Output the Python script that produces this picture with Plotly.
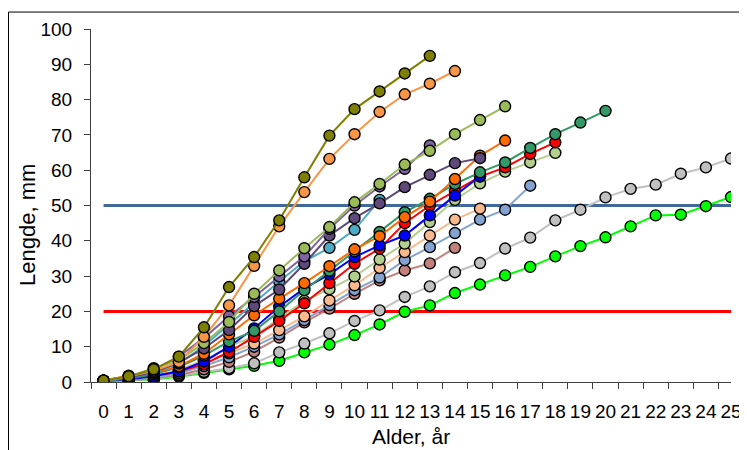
import plotly.graph_objects as go

ages = list(range(26))
age_labels = [str(a) for a in ages]
y_ticks = [0, 10, 20, 30, 40, 50, 60, 70, 80, 90, 100]

olive = [0.4, 1.6, 3.6, 7.2, 15.5, 26.9, 35.4, 45.8, 58.0, 69.8, 77.3, 82.3, 87.4, 92.4]
orange_b = [0.4, 1.6, 3.2, 5.7, 12.8, 21.7, 32.9, 44.1, 53.8, 63.2, 70.2, 76.5, 81.5, 84.5, 88.1]
green_c = [0.4, 1.5, 3.9, 6.2, 11.0, 17.0, 25.0, 31.6, 37.9, 43.9, 50.9, 56.1, 61.6, 65.5, 70.2, 74.2, 78.1]
purple_d = [0.4, 1.4, 3.5, 7.2, 12.5, 18.6, 24.1, 29.9, 35.6, 43.4, 50.0, 55.4, 60.4, 67.0]
purple_e = [0.4, 1.2, 2.8, 5.5, 9.5, 14.7, 21.5, 26.2, 33.5, 41.5, 46.4, 50.6, 55.2, 58.7, 62.0, 63.4]
teal = [0.4, 1.2, 2.8, 5.2, 10.2, 16.3, 22.4, 28.5, 34.2, 38.0, 43.1, 51.6]
orange_f = [0.4, 1.8, 2.6, 4.5, 8.0, 13.5, 18.9, 23.6, 28.0, 32.8, 37.6, 41.3, 46.7, 51.1, 57.5, 64.1, 68.4]
seagreen = [0.3, 1.0, 2.2, 4.2, 7.5, 11.5, 14.5, 20.0, 26.0, 31.5, 37.0, 42.5, 48.1, 51.9, 56.1, 59.4, 62.2, 66.3, 70.2, 73.5, 76.8]
red = [0.3, 0.9, 1.8, 3.0, 5.0, 8.5, 12.8, 17.3, 22.3, 28.0, 33.5, 37.8, 45.0, 50.0, 54.2, 58.2, 60.8, 64.6, 67.9]
blue = [0.3, 0.8, 1.6, 3.0, 5.8, 10.0, 15.2, 21.3, 26.5, 30.5, 35.4, 38.7, 41.5, 47.2, 52.8, 58.3]
lightgreen = [0.3, 0.8, 1.6, 3.2, 6.0, 10.0, 13.0, 18.0, 23.0, 26.3, 29.9, 34.7, 39.2, 45.3, 51.6, 56.3, 59.6, 62.2, 64.9]
peach = [0.3, 0.8, 1.5, 3.5, 6.2, 8.1, 10.9, 14.7, 18.6, 23.1, 27.4, 32.3, 36.8, 41.5, 46.0, 49.1]
lightblue = [0.3, 0.6, 1.2, 2.5, 4.5, 7.0, 10.0, 13.5, 17.5, 21.8, 26.0, 29.6, 34.5, 38.2, 42.2, 46.0, 48.8, 55.6]
rosy = [0.3, 0.5, 1.0, 2.0, 3.6, 5.7, 8.6, 12.6, 16.9, 20.8, 25.0, 28.8, 31.6, 33.6, 38.0]
gray = [0.3, 0.5, 0.9, 1.8, 2.9, 3.9, 5.3, 8.4, 10.9, 13.8, 17.3, 20.3, 24.1, 27.1, 31.1, 33.7, 37.8, 40.9, 45.8, 48.8, 52.3, 54.7, 55.9, 59.0, 60.8, 63.3]
green_o = [0.3, 0.4, 0.7, 1.5, 2.6, 3.6, 4.6, 6.0, 8.4, 10.6, 13.3, 16.3, 19.9, 21.7, 25.2, 27.6, 30.2, 32.6, 35.6, 38.5, 41.0, 44.1, 47.2, 47.4, 49.8, 52.4]

limit_upper = 50
limit_lower = 20
limit_ages = [0, 25]

x_title = "Alder, år"
y_title = "Lengde, mm"

series = [
    (green_o, "#00FF00"),
    (gray, "#C0C0C0"),
    (rosy, "#C3807C"),
    (lightblue, "#85A3D1"),
    (peach, "#FAB98C"),
    (lightgreen, "#B3CF8E"),
    (red, "#FF0000"),
    (blue, "#0000FF"),
    (seagreen, "#339966"),
    (orange_f, "#FF6A00"),
    (teal, "#4BACC6"),
    (purple_e, "#5F497A"),
    (purple_d, "#8064A2"),
    (green_c, "#9BBB59"),
    (orange_b, "#F79646"),
    (olive, "#7F7F00"),
]

fig = go.Figure()

for val, col in [(limit_upper, "#41689A"), (limit_lower, "#FF0000")]:
    fig.add_trace(go.Scatter(x=limit_ages, y=[val, val], mode="lines",
                             line=dict(color=col, width=3), showlegend=False,
                             hoverinfo="skip"))

for vals, col in series:
    fig.add_trace(go.Scatter(
        x=ages[:len(vals)], y=vals, mode="lines+markers",
        line=dict(color=col, width=2),
        marker=dict(size=11, color=col, line=dict(color="black", width=1.4)),
        showlegend=False))

font_family = "Liberation Sans, Arial, sans-serif"

fig.update_layout(
    width=739, height=442,
    margin=dict(l=83, r=16, t=21, b=68, autoexpand=False),
    paper_bgcolor="white", plot_bgcolor="white",
    font=dict(family=font_family, size=19, color="black"),
    showlegend=False,
    xaxis=dict(
        range=[-0.5, 25], tickmode="array", tickvals=ages, ticktext=age_labels,
        ticks="", showgrid=False, zeroline=False, automargin=False,
        showline=True, linecolor="#404040", linewidth=1,
        ticklabelstandoff=12,
        minor=dict(tick0=0.5, dtick=1, ticks="outside", ticklen=6,
                   tickcolor="#404040", showgrid=False),
        tickfont=dict(size=19),
    ),
    yaxis=dict(
        range=[0, 100], tickmode="array", tickvals=y_ticks,
        ticks="outside", ticklen=6, tickcolor="#404040",
        showgrid=False, zeroline=False, automargin=False,
        showline=True, linecolor="#404040", linewidth=1,
        ticklabelstandoff=8,
        tickfont=dict(size=19),
    ),
    annotations=[
        dict(text=x_title, xref="paper", yref="paper", x=0.5, y=-0.155,
             xanchor="center", yanchor="middle", showarrow=False,
             font=dict(size=21)),
        dict(text=y_title, xref="paper", yref="paper", x=-0.0984, y=0.445,
             xanchor="center", yanchor="middle", showarrow=False, textangle=-90,
             font=dict(size=22)),
    ],
    shapes=[dict(type="rect", xref="paper", yref="paper",
                 x0=-0.1289, x1=1.0156, y0=-0.25, y1=1.048,
                 line=dict(color="black", width=1), fillcolor="rgba(0,0,0,0)",
                 layer="below")],
)

fig.write_html("out.html")
